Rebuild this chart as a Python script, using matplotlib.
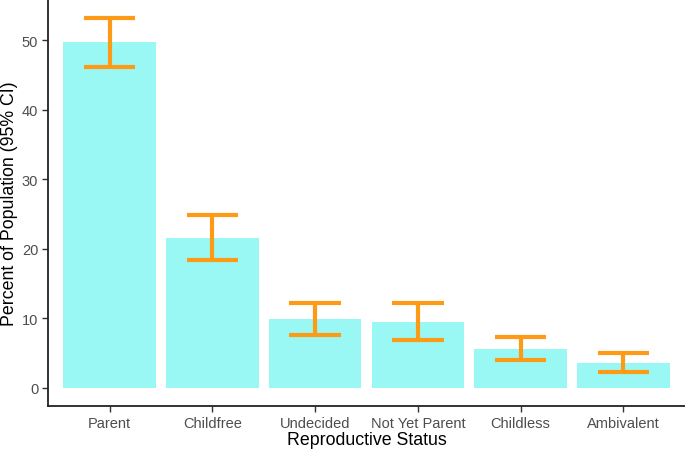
import numpy as np
import matplotlib
matplotlib.use("Agg")
from matplotlib import pyplot as plt

# data
status = ["Parent", "Childfree", "Undecided", "Not Yet Parent", "Childless", "Ambivalent"]
percent = [49.7, 21.6, 9.8, 9.5, 5.6, 3.5]
ci_low = [46.1, 18.3, 7.6, 6.9, 3.9, 2.2]
ci_high = [53.3, 24.9, 12.2, 12.2, 7.3, 4.9]

BAR_COL = "#9AF8F4"
ERR_COL = "#FD9A16"
TXT_COL = "#4D4D4D"


def main():
    plt.rcParams["font.family"] = ["Liberation Sans", "DejaVu Sans"]

    fig = plt.figure(figsize=(6.85, 4.52), dpi=100)
    ax = fig.add_axes([48 / 685, 45 / 452, 1 - 48 / 685, 1 - 45 / 452])

    x = np.arange(1, len(status) + 1)
    ax.bar(x, percent, width=0.9, color=BAR_COL, zorder=1)
    ax.vlines(x, ci_low, ci_high, color=ERR_COL, linewidth=3, zorder=2)
    ax.hlines(ci_low, x - 0.25, x + 0.25, color=ERR_COL, linewidth=3, zorder=2)
    ax.hlines(ci_high, x - 0.25, x + 0.25, color=ERR_COL, linewidth=3, zorder=2)

    ax.set_xlim(0.4, 6.6)
    top = max(ci_high)
    ax.set_ylim(-0.05 * top, top * 1.05)

    ax.set_xticks(x)
    ax.set_xticklabels(status)
    ax.set_yticks([0, 10, 20, 30, 40, 50])
    ax.tick_params(colors="#333333", labelcolor=TXT_COL, labelsize=10.5, length=4, width=1.0, pad=3)

    ax.set_xlabel("Reproductive Status", fontsize=12.8, labelpad=1)
    ax.set_ylabel("Percent of Population (95% CI)", fontsize=12.8, labelpad=3)

    for s in ["top", "right"]:
        ax.spines[s].set_visible(False)
    for s in ["left", "bottom"]:
        ax.spines[s].set_linewidth(1.3)
        ax.spines[s].set_color("#222222")

    fig.savefig("out.png", dpi=100)
    plt.close(fig)


if __name__ == "__main__":
    main()
